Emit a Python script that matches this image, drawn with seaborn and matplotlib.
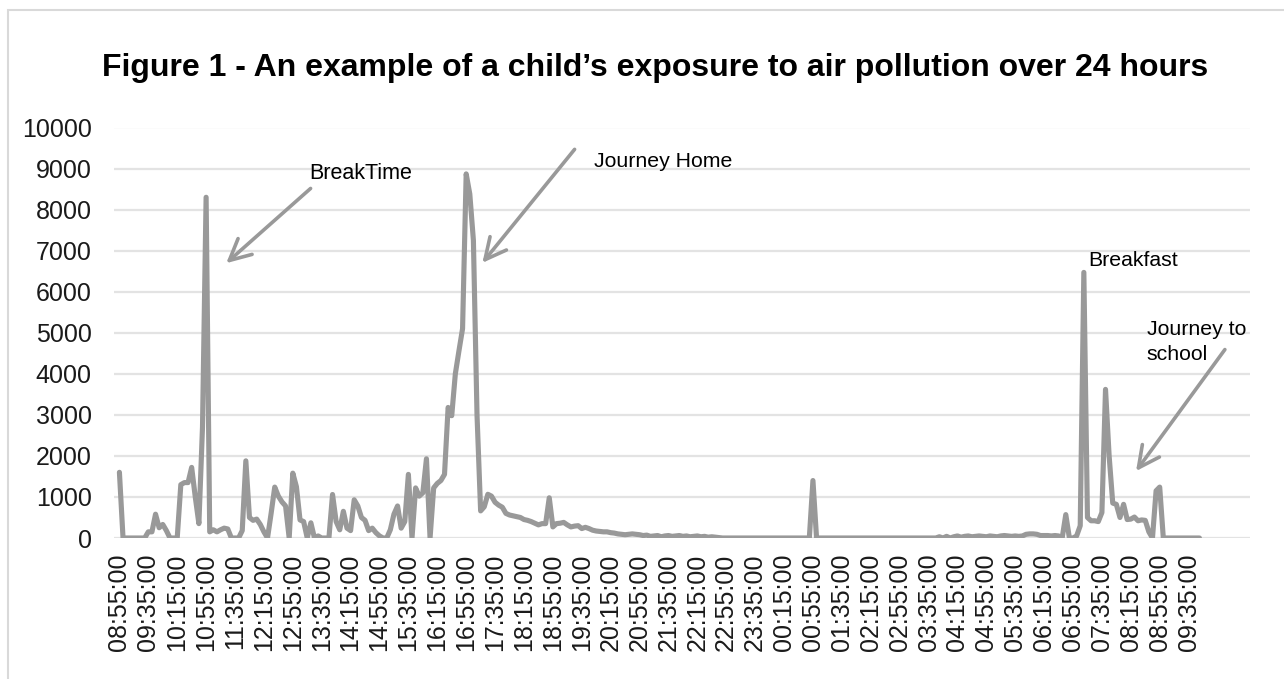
import numpy as np
import pandas as pd
import matplotlib
matplotlib.use('Agg')
import matplotlib.pyplot as plt
import seaborn as sns
from matplotlib.patches import Rectangle

title = 'Figure 1 - An example of a child\u2019s exposure to air pollution over 24 hours'

# one label every 8 readings (40 min), readings every 5 min
tick_labels = ['08:55:00', '09:35:00', '10:15:00', '10:55:00', '11:35:00', '12:15:00',
               '12:55:00', '13:35:00', '14:15:00', '14:55:00', '15:35:00', '16:15:00',
               '16:55:00', '17:35:00', '18:15:00', '18:55:00', '19:35:00', '20:15:00',
               '20:55:00', '21:35:00', '22:15:00', '22:55:00', '23:35:00', '00:15:00',
               '00:55:00', '01:35:00', '02:15:00', '02:55:00', '03:35:00', '04:15:00',
               '04:55:00', '05:35:00', '06:15:00', '06:55:00', '07:35:00', '08:15:00',
               '08:55:00', '09:35:00']

exposure = [
    1600, 0, 0, 0, 0, 0, 0, 0, 150, 150,            # 0
    580, 250, 330, 180, 0, 0, 0, 1300, 1350, 1350,  # 10
    1720, 1000, 350, 2700, 8300, 150, 200, 150, 200, 240,  # 20
    220, 0, 0, 0, 180, 1880, 500, 430, 460, 330,    # 30
    150, 0, 600, 1240, 1020, 880, 780, 0, 1580, 1250,  # 40
    440, 400, 0, 370, 0, 50, 0, 0, 0, 1060,         # 50
    400, 200, 650, 240, 180, 930, 780, 500, 430, 180,  # 60
    240, 130, 50, 0, 0, 200, 580, 780, 240, 400,    # 70
    1550, 0, 1220, 1020, 1100, 1930, 0, 1220, 1330, 1400,  # 80
    1550, 3180, 2980, 4000, 4560, 5100, 8870, 8380, 7250, 3000,  # 90
    660, 760, 1065, 1020, 870, 800, 750, 600, 560, 540,  # 100
    520, 500, 450, 430, 400, 360, 320, 350, 350, 980,  # 110
    270, 350, 360, 380, 320, 270, 290, 300, 230, 260,  # 120
    230, 190, 170, 160, 150, 150, 130, 120, 100, 90,  # 130
    80, 90, 100, 90, 80, 60, 70, 40, 50, 60,        # 140
    30, 50, 60, 40, 50, 60, 40, 50, 30, 40,         # 150
    50, 30, 40, 20, 30, 20, 10, 0, 0, 0,            # 160
    0, 0, 0, 0, 0, 0, 0, 0, 0, 0,                   # 170
    0, 0, 0, 0, 0, 0, 0, 0, 0, 0,                   # 180
    0, 0, 1400, 0, 0, 0, 0, 0, 0, 0,                # 190
    0, 0, 0, 0, 0, 0, 0, 0, 0, 0,                   # 200
    0, 0, 0, 0, 0, 0, 0, 0, 0, 0,                   # 210
    0, 0, 0, 0, 0, 0, 0, 30, 0, 40,                 # 220
    0, 30, 50, 20, 40, 50, 30, 40, 50, 40,          # 230
    30, 50, 40, 30, 50, 60, 50, 40, 50, 40,         # 240
    50, 90, 100, 100, 90, 60, 60, 60, 50, 60,       # 250
    50, 0, 570, 0, 0, 50, 300, 6470, 500, 420,      # 260
    420, 400, 620, 3620, 2000, 850, 820, 500, 820, 450,  # 270
    460, 510, 420, 440, 430, 150, 0, 1150, 1240, 0,  # 280
    0, 0, 0, 0, 0, 0, 0, 0, 0, 0,                   # 290
]

df = pd.DataFrame({'step': np.arange(len(exposure)), 'exposure': exposure})

sns.set_style('white')
plt.rcParams['font.family'] = ['Liberation Sans', 'DejaVu Sans']

W, H = 1284, 679
fig = plt.figure(figsize=(W / 100, H / 100), dpi=100)
ax = fig.add_axes([114 / W, 1 - 538 / H, (1250 - 114) / W, (538 - 127.5) / H])

sns.lineplot(data=df, x='step', y='exposure', color='#999999', linewidth=3.7,
             solid_joinstyle='round', solid_capstyle='round', ax=ax)

ax.set_ylim(0, 10000)
ax.set_yticks(range(0, 10001, 1000))
ax.set_xlim(-1.5, 313)
ax.set_xticks(range(0, len(tick_labels) * 8, 8))
ax.set_xticklabels(tick_labels, rotation=90)
ax.grid(axis='y', color='#e3e3e3', lw=1.6)
ax.grid(axis='x', visible=False)
ax.set_axisbelow(True)
for s in ax.spines.values():
    s.set_visible(False)
ax.tick_params(axis='y', length=0, labelsize=18, colors='#1a1a1a', pad=16)
ax.tick_params(axis='x', length=0, labelsize=18, colors='#1a1a1a', pad=11)
ax.set_xlabel('')
ax.set_ylabel('')

# annotations
arrow = dict(arrowstyle='->', color='#999999', lw=2.6, mutation_scale=38)
ax.annotate('', xy=(29, 6650), xytext=(53.5, 8560), arrowprops=arrow)
ax.text(52.5, 8890, 'BreakTime', fontsize=15.5, va='center', ha='left', color='black')
ax.annotate('', xy=(100, 6650), xytext=(126.5, 9520), arrowprops=arrow)
ax.text(131.5, 9160, 'Journey Home', fontsize=15.3, va='center', ha='left', color='black')
ax.text(268.3, 6770, 'Breakfast', fontsize=15.3, va='center', ha='left', color='black')
ax.annotate('', xy=(281, 1575), xytext=(306.5, 4645), arrowprops=arrow)
ax.text(284.4, 4775, 'Journey to\nschool', fontsize=15.3, va='center', ha='left',
        linespacing=1.35, color='black')

fig.text(655 / W, 1 - 68 / H, title, ha='center', va='center', fontsize=23,
         fontweight='bold', color='black')

fig.add_artist(Rectangle((8 / W, -0.05), 1.1, (H - 10) / H + 0.05,
                         transform=fig.transFigure, fill=False,
                         ec='#d9d9d9', lw=1.5))

fig.savefig('out.png', dpi=100)
